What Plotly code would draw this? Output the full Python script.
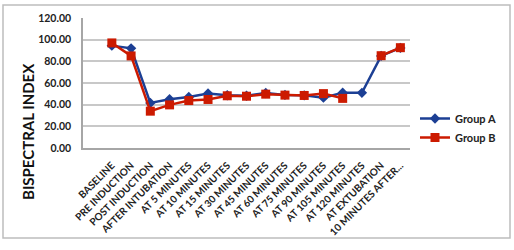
import plotly.graph_objects as go

categories = ["BASELINE", "PRE INDUCTION", "POST INDUCTION", "AFTER INTUBATION",
              "AT 5 MINUTES", "AT 10 MINUTES", "AT 15 MINUTES", "AT 30 MINUTES",
              "AT 45 MINUTES", "AT 60 MINUTES", "AT 75 MINUTES", "AT 90 MINUTES",
              "AT 105 MINUTES", "AT 120 MINUTES", "AT EXTUBATION", "10 MINUTES AFTER..."]
group_a = [94.5, 92.0, 41.6, 45.0, 47.1, 50.3, 48.7, 48.2, 50.8, 49.0, 48.6, 46.5, 51.0, 50.9, 85.0, 92.4]
group_b = [97.0, 85.0, 34.0, 39.8, 43.8, 44.8, 48.2, 47.8, 49.7, 48.8, 48.5, 50.2, 45.8, None, 85.2, 92.6]
y_ticks = [0, 20, 40, 60, 80, 100, 120]
y_labels = ["%.2f" % v for v in y_ticks]

W, H = 514, 250
L, R, T, B = 83, 104, 18, 102
pw, ph = W - L - R, H - T - B

fig = go.Figure()
fig.add_trace(go.Scatter(x=categories, y=group_a, name="Group A", mode="lines+markers",
                         line=dict(color="#1C3F94", width=2.5),
                         marker=dict(symbol="diamond", size=8, color="#1C3F94")))
fig.add_trace(go.Scatter(x=categories, y=group_b, name="Group B", mode="lines+markers",
                         connectgaps=False,
                         line=dict(color="#CC1A00", width=2.5),
                         marker=dict(symbol="square", size=9, color="#CC1A00")))

def px(x):
    return (x - L) / pw

def py(y):
    return (H - B - y) / ph

fig.add_shape(type="rect", xref="paper", yref="paper",
              x0=px(3), x1=px(510), y0=py(238), y1=py(5),
              line=dict(color="#BDBDBD", width=1.5), fillcolor="rgba(0,0,0,0)", layer="below")

fig.add_annotation(text="BISPECTRAL INDEX", xref="paper", yref="paper",
                   x=px(28), y=py(132), textangle=-90, showarrow=False,
                   xanchor="center", yanchor="middle",
                   font=dict(size=15, color="#111", weight="bold",
                             family="Lato, Open Sans, sans-serif"))

fig.update_layout(
    width=W, height=H, margin=dict(l=L, r=R, t=T, b=B),
    paper_bgcolor="white", plot_bgcolor="white",
    font=dict(family="Lato, Open Sans, sans-serif", color="#222"),
    showlegend=True,
    legend=dict(x=px(501), y=py(104), xanchor="right", yanchor="top",
                font=dict(size=11, color="#222", weight="bold"), itemwidth=30,
                tracegroupgap=2, bgcolor="rgba(0,0,0,0)"),
    xaxis=dict(type="category", range=[-1.5, 15.5], tickangle=-45,
               tickfont=dict(size=10, color="#222", weight="bold"), showgrid=False,
               showline=True, linecolor="#A6A6A6", linewidth=1.5, ticks="",
               ticklabelstandoff=6),
    yaxis=dict(range=[0, 120], tickvals=y_ticks, ticktext=y_labels,
               tickfont=dict(size=10.5, color="#222", weight="bold"), showgrid=True,
               gridcolor="#C8C8C8", gridwidth=1.5, zeroline=False,
               showline=True, linecolor="#A6A6A6", linewidth=1.5, ticks="",
               ticklabelstandoff=8),
)

fig.write_html("out.html")
